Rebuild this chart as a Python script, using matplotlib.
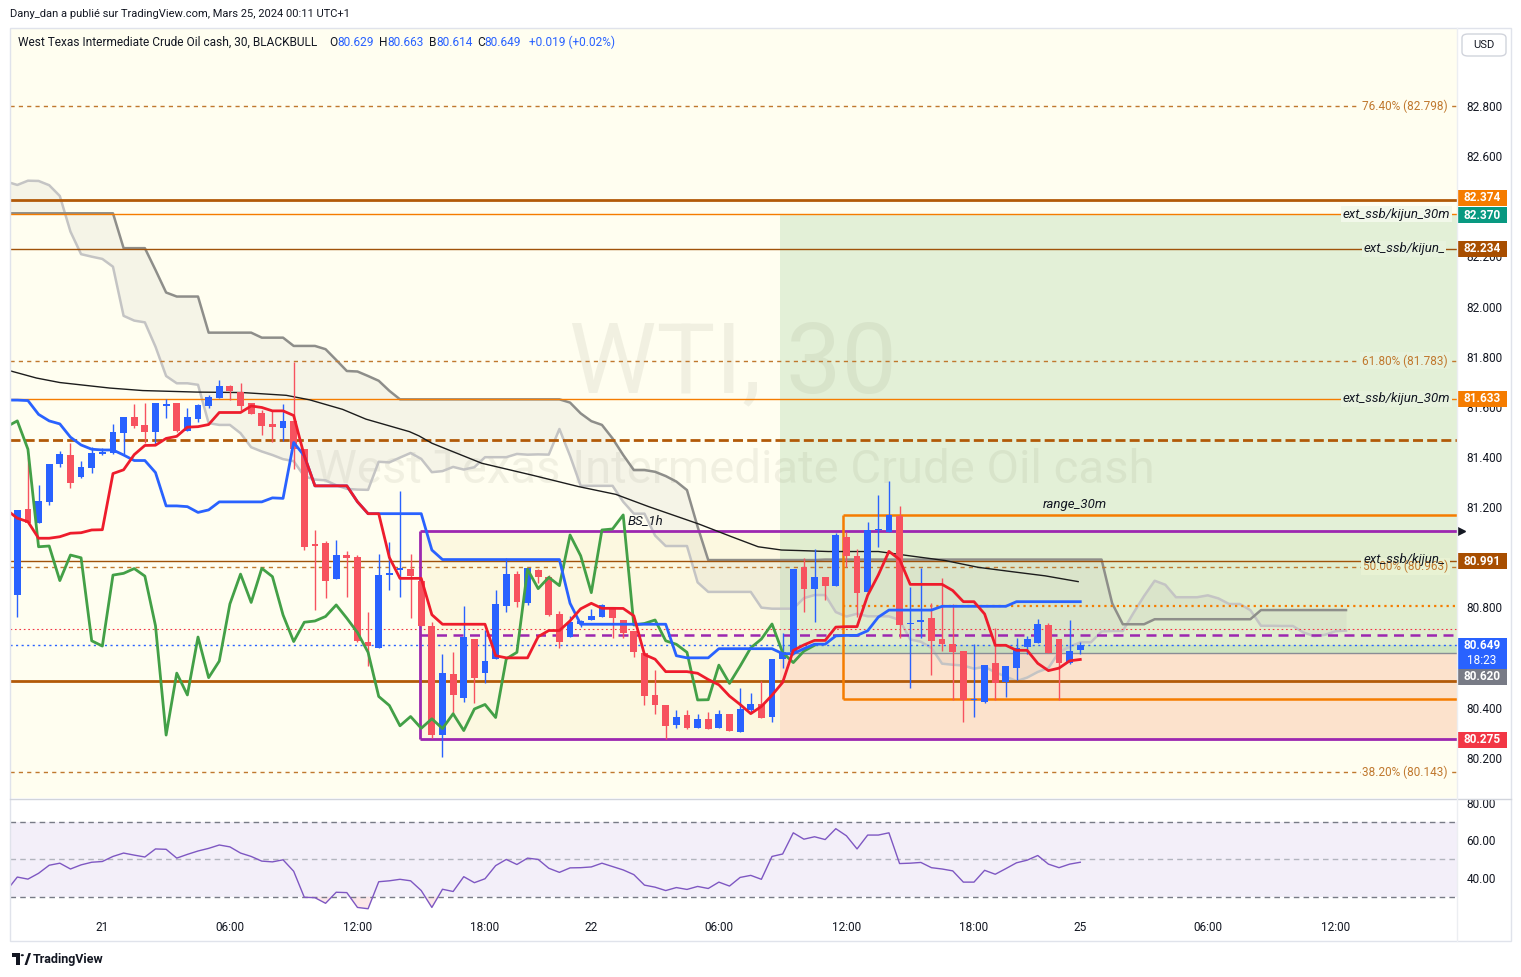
import numpy as np
import matplotlib
matplotlib.use('Agg')
import matplotlib.pyplot as plt
from matplotlib.patches import Rectangle, FancyBboxPatch, Polygon, Circle

plt.rcParams['font.family'] = ['Roboto', 'DejaVu Sans']

# ---------------- data (30-minute candles, index 0..100) ----------------
opens = [80.850, 81.193, 81.138, 81.222, 81.371, 81.408, 81.322, 81.358, 81.412, 81.415,
         81.497, 81.560, 81.526, 81.501, 81.602, 81.616, 81.505, 81.552, 81.605, 81.637,
         81.683, 81.658, 81.616, 81.577, 81.532, 81.517, 81.544, 81.431, 81.053, 81.056,
         80.915, 81.008, 81.000, 80.661, 80.639, 80.928, 80.951, 80.955, 80.905, 80.726,
         80.291, 80.534, 80.440, 80.674, 80.540, 80.593, 80.807, 80.932, 80.819, 80.949,
         80.922, 80.773, 80.684, 80.734, 80.750, 80.761, 80.800, 80.750, 80.708, 80.618,
         80.451, 80.411, 80.332, 80.372, 80.321, 80.356, 80.321, 80.376, 80.305, 80.392,
         80.415, 80.362, 80.594, 80.624, 80.960, 80.875, 80.920, 80.887, 81.079, 81.005,
         80.863, 81.109, 81.102, 81.166, 80.733, 80.740, 80.759, 80.674, 80.654, 80.626,
         80.430, 80.424, 80.580, 80.504, 80.560, 80.643, 80.659, 80.730, 80.674, 80.580,
         80.629]
highs = [81.189, 81.401, 81.289, 81.372, 81.425, 81.457, 81.384, 81.439, 81.435, 81.532,
         81.560, 81.610, 81.614, 81.616, 81.630, 81.616, 81.594, 81.610, 81.647, 81.707,
         81.687, 81.694, 81.616, 81.588, 81.588, 81.610, 81.780, 81.431, 81.109, 81.065,
         81.069, 81.025, 81.009, 80.780, 81.013, 81.062, 81.264, 81.013, 80.905, 80.743,
         80.614, 80.621, 80.806, 80.674, 80.710, 80.869, 80.996, 80.945, 80.956, 80.955,
         80.929, 80.786, 80.764, 80.750, 80.794, 80.813, 80.800, 80.750, 80.708, 80.618,
         80.551, 80.411, 80.392, 80.392, 80.376, 80.382, 80.392, 80.376, 80.478, 80.458,
         80.505, 80.595, 80.697, 80.952, 80.996, 81.032, 80.920, 81.098, 81.102, 81.032,
         81.139, 81.248, 81.304, 81.206, 80.883, 80.956, 80.816, 80.916, 80.812, 80.626,
         80.653, 80.570, 80.717, 80.566, 80.677, 80.687, 80.754, 80.736, 80.674, 80.750,
         80.663]
lows = [80.763, 81.136, 81.138, 81.209, 81.359, 81.278, 81.318, 81.335, 81.408, 81.412,
        81.412, 81.517, 81.457, 81.448, 81.557, 81.500, 81.505, 81.541, 81.597, 81.637,
        81.627, 81.588, 81.573, 81.488, 81.461, 81.465, 81.351, 81.029, 80.790, 80.839,
        80.915, 80.843, 80.663, 80.568, 80.637, 80.869, 80.843, 80.759, 80.727, 80.278,
        80.202, 80.371, 80.424, 80.420, 80.497, 80.593, 80.783, 80.803, 80.810, 80.896,
        80.767, 80.637, 80.681, 80.721, 80.748, 80.761, 80.677, 80.677, 80.604, 80.411,
        80.374, 80.275, 80.321, 80.314, 80.321, 80.317, 80.321, 80.309, 80.305, 80.378,
        80.361, 80.345, 80.558, 80.611, 80.783, 80.743, 80.830, 80.887, 80.962, 80.760,
        80.863, 81.040, 81.102, 80.679, 80.480, 80.679, 80.530, 80.628, 80.431, 80.342,
        80.362, 80.420, 80.431, 80.444, 80.511, 80.613, 80.659, 80.620, 80.431, 80.573,
        80.614]
closes = [81.189, 81.136, 81.225, 81.372, 81.412, 81.295, 81.360, 81.415, 81.420, 81.500,
          81.560, 81.525, 81.501, 81.616, 81.612, 81.504, 81.560, 81.608, 81.639, 81.682,
          81.665, 81.605, 81.573, 81.525, 81.521, 81.544, 81.431, 81.042, 81.045, 80.907,
          81.009, 80.998, 80.667, 80.646, 80.929, 80.936, 80.955, 80.925, 80.727, 80.291,
          80.538, 80.451, 80.682, 80.520, 80.586, 80.814, 80.933, 80.820, 80.956, 80.923,
          80.770, 80.664, 80.741, 80.746, 80.764, 80.810, 80.757, 80.700, 80.621, 80.445,
          80.409, 80.328, 80.365, 80.318, 80.356, 80.317, 80.376, 80.309, 80.395, 80.413,
          80.361, 80.595, 80.621, 80.952, 80.875, 80.920, 80.887, 81.089, 81.006, 80.859,
          81.109, 81.113, 81.169, 80.730, 80.736, 80.750, 80.667, 80.653, 80.621, 80.431,
          80.432, 80.570, 80.497, 80.566, 80.639, 80.674, 80.734, 80.620, 80.580, 80.626,
          80.649]

tenkan_head = [81.189, 81.156, 81.142, 81.076, 81.076, 81.082, 81.096, 81.098, 81.109]  # -1..7
kijun_head = [81.627, 81.627, 81.625, 81.570, 81.544, 81.532, 81.479, 81.448, 81.431, 81.428,
              81.428, 81.408, 81.386, 81.386, 81.338, 81.205, 81.205, 81.202, 81.179, 81.189,
              81.221, 81.221, 81.221, 81.221, 81.221, 81.237]  # -1..24
spanA_head = [82.498, 82.485, 82.502, 82.501, 82.484, 82.441, 82.299, 82.209, 82.199, 82.190,
              82.159, 81.963, 81.944, 81.937, 81.840, 81.723, 81.694, 81.694, 81.688, 81.535,
              81.528, 81.528, 81.495, 81.439, 81.422, 81.408]  # -1..24
spanB_head = ([82.372] * 11 + [82.233] * 3 + [82.146, 82.056] + [82.040] * 3 + [81.896] * 5 +
              [81.876] * 3 + [81.843] * 3 + [81.830, 81.787, 81.743, 81.741, 81.723, 81.704, 81.664] +
              [81.630] * 16 +
              [81.617, 81.574, 81.543, 81.528, 81.474, 81.408, 81.348, 81.348, 81.341, 81.324,
               81.302, 81.268, 81.122] + [80.989] * 11)  # -1..75

# long moving average (black line) read at positions
ma_pos = [-0.7, 1.8, 4.0, 8.7, 11.8, 16.8, 21.2, 25.3, 27.5, 30.6, 32.8, 36.9, 37.8, 39.0, 43.7,
          48.4, 52.8, 56.3, 59.4, 64.1, 67.2, 69.7, 71.9, 73.5, 76.3, 81.0, 84.1, 87.3, 90.4,
          93.5, 96.7, 99.8]
ma_val = [81.744, 81.715, 81.697, 81.675, 81.665, 81.659, 81.657, 81.646, 81.628, 81.590, 81.551,
          81.501, 81.484, 81.455, 81.375, 81.328, 81.282, 81.251, 81.202, 81.133, 81.082, 81.042,
          81.029, 81.027, 81.023, 81.023, 81.005, 80.987, 80.960, 80.943, 80.926, 80.903]

# RSI, index -1..100
rsi = [33.3,
       40.5, 39.4, 42.5, 46.8, 47.9, 44.8, 47.0, 48.4, 48.8, 51.5, 53.3, 52.2, 51.2, 55.5, 55.3,
       50.6, 52.6, 54.4, 55.8, 57.6, 56.6, 53.3, 51.5, 49.0, 48.6, 49.7, 43.6, 29.7, 29.5, 26.5,
       32.4, 32.2, 24.3, 23.6, 38.0, 38.5, 39.3, 38.5, 33.3, 24.3, 34.0, 32.8, 40.7, 37.5, 39.6,
       46.6, 49.9, 47.2, 50.6, 49.9, 45.2,
       43.0, 45.4, 45.5, 45.9, 47.9, 46.1, 44.3, 41.8, 36.2, 35.1, 33.3, 34.9, 33.9, 35.5, 34.4,
       37.8, 35.7, 40.3, 41.4, 39.3, 51.5, 52.8, 64.1, 60.7, 62.0, 60.5, 66.3, 62.5, 55.5, 62.9,
       62.9, 64.1, 47.7, 47.9, 48.3, 45.5, 44.8, 43.8, 37.8, 37.8, 44.1, 42.0, 45.0, 48.1, 49.5,
       52.0, 47.4, 45.5, 47.4, 48.4]

time_pos = [8, 20, 32, 44, 54, 66, 78, 90, 100, 112, 124]
time_labels = ['21', '06:00', '12:00', '18:00', '22', '06:00', '12:00', '18:00', '25', '06:00', '12:00']

price_ticks = [80.2, 80.4, 80.8, 81.2, 81.4, 81.6, 81.8, 82.0, 82.2, 82.6, 82.8]

# drawing levels
fib_levels = [82.798, 81.783, 80.963, 80.143]
fib_labels = ['76.40% (82.798)', '61.80% (81.783)', '50.00% (80.963)', '38.20% (80.143)']
bs_top, bs_bottom, bs_left = 81.105, 80.276, 37.9
rng_top, rng_bottom, rng_left = 81.169, 80.435, 77.7
pos_left, pos_entry, pos_target, pos_stop, last_price = 71.75, 80.620, 82.369, 80.275, 80.649

# ---------------- figure ----------------
W, H = 1521, 977
fig = plt.figure(figsize=(W / 100, H / 100), dpi=100)
fig.patch.set_facecolor('white')


def pax(l, t, r, b):
    return [l / W, 1 - b / H, (r - l) / W, (b - t) / H]


ax = fig.add_axes(pax(10, 28, 1457, 798))
ax2 = fig.add_axes(pax(10, 800, 1457, 913))
XL = (-0.687, 135.44)
ax.set_xlim(*XL)
ax.set_ylim(80.040, 83.111)
ax.set_facecolor('#fffef0')
for s in ax.spines.values():
    s.set_visible(False)

n = len(closes)
o = np.array(opens); h = np.array(highs); l = np.array(lows); c = np.array(closes)
idx = np.arange(n)

# Ichimoku computation (9 / 26 / 52, displacement 26)
tenkan = list(tenkan_head) + [(h[i - 8:i + 1].max() + l[i - 8:i + 1].min()) / 2 for i in range(8, n)]
kijun = list(kijun_head) + [(h[i - 25:i + 1].max() + l[i - 25:i + 1].min()) / 2 for i in range(25, n)]
tenkan = np.array(tenkan); kijun = np.array(kijun)   # indices -1..100
spanA = np.array(list(spanA_head) + [(tenkan[j + 1] + kijun[j + 1]) / 2 for j in range(0, n)])
spanB = np.array(list(spanB_head) + [(h[j - 51:j + 1].max() + l[j - 51:j + 1].min()) / 2 for j in range(51, n)])
cloud_x = np.arange(-1, n + 25)
line_x = np.arange(-1, n)

# backgrounds / zones
ax.add_patch(Rectangle((bs_left, bs_bottom), XL[1] - bs_left, bs_top - bs_bottom,
                       facecolor='#f3e3a0', alpha=0.2, edgecolor='none', zorder=0.5))
ax.add_patch(Rectangle((pos_left, pos_entry), XL[1] - pos_left, pos_target - pos_entry,
                       facecolor='#c8e4c0', alpha=0.5, edgecolor='none', zorder=0.6))
ax.add_patch(Rectangle((pos_left, pos_stop), XL[1] - pos_left, pos_entry - pos_stop,
                       facecolor='#fdc9b4', alpha=0.45, edgecolor='none', zorder=0.6))
ax.add_patch(Rectangle((pos_left, pos_entry), XL[1] - pos_left, last_price - pos_entry,
                       facecolor='#a8d8a8', alpha=0.35, edgecolor='none', zorder=0.6))

# watermark
ax.text(733 / W, 1 - 365 / H, 'WTI, 30', transform=fig.transFigure, fontsize=71,
        ha='center', va='center', color='#6b6b50', alpha=0.09, zorder=0.7)
ax.text(735 / W, 1 - 470 / H, 'West Texas Intermediate Crude Oil cash', transform=fig.transFigure,
        fontsize=34, ha='center', va='center', color='#6b6b50', alpha=0.09, zorder=0.7)

# cloud
ax.fill_between(cloud_x, spanA, spanB, color='#9e9e9e', alpha=0.1, lw=0, zorder=1)
ax.plot(cloud_x, spanA, color='#c4c4c4', lw=1.8, zorder=1.2)
ax.plot(cloud_x, spanB, color='#8e8e8a', lw=1.8, zorder=1.2)

# horizontal levels
yt = ax.get_yaxis_transform()
fibc = '#c0782e'
for v in fib_levels:
    ax.axhline(v, color=fibc, lw=1, ls=(0, (3, 3)), zorder=1.5)
ax.axhline(82.425, color='#b25a08', lw=2, zorder=1.5)
ax.axhline(82.369, color='#f57c00', lw=1, zorder=1.5)
ax.axhline(82.230, color='#a0520a', lw=1, zorder=1.5)
ax.axhline(81.632, color='#f57c00', lw=1, zorder=1.5)
ax.axhline(81.468, color='#b25a08', lw=2, ls=(0, (3.6, 1.5)), zorder=1.5)
ax.axhline(80.985, color='#a0520a', lw=1, zorder=1.5)
ax.axhline(80.507, color='#b25a08', lw=2, zorder=1.5)
ax.axhline(80.714, color='#f23645', lw=0.8, ls=(0, (1.5, 2.5)), zorder=1.5)
ax.axhline(last_price, color='#2962ff', lw=1, ls=(0, (1.5, 2.5)), zorder=1.5)
ax.hlines(pos_entry, pos_left, XL[1], color='#8a8d96', lw=1, zorder=1.5)
ax.hlines(80.806, rng_left, XL[1], color='#f57c00', lw=1.6, ls=(0, (1, 1.8)), zorder=1.5)
ax.hlines(80.690, bs_left, XL[1], color='#9c27b0', lw=1.8, ls=(0, (4, 2.6)), zorder=1.5)

# boxes
ax.hlines([bs_top, bs_bottom], bs_left, XL[1], color='#9c27b0', lw=2, zorder=1.6)
ax.vlines(bs_left, bs_bottom, bs_top, color='#9c27b0', lw=2, zorder=1.6)
ax.hlines([rng_top, rng_bottom], rng_left, XL[1], color='#f57c00', lw=1.8, zorder=1.6)
ax.vlines(rng_left, rng_bottom, rng_top, color='#f57c00', lw=1.8, zorder=1.6)

# moving average
ax.plot(ma_pos, ma_val, color='#1c1c1c', lw=1, zorder=2)

# candles
up = c >= o
cols = np.where(up, '#2962ff', '#f7525f')
ax.vlines(idx, l, h, colors=cols, lw=1, zorder=3)
body_lo = np.minimum(o, c)
body_h = np.maximum(np.abs(c - o), 0.005)
ax.bar(idx, body_h, bottom=body_lo, width=0.64, color=cols, edgecolor='none', zorder=3.1)

# ichimoku lines
ax.plot(idx - 25, c, color='#43a047', lw=2, zorder=4)
ax.plot(line_x, kijun, color='#2962ff', lw=2, zorder=4.1)
ax.plot(line_x, tenkan, color='#ee1c2c', lw=2, zorder=4.2)

# texts on the chart
lab_kw = dict(transform=yt, ha='right', va='center', zorder=6)
fib_bg = ['#fffef0', '#e7f2dd', '#e8f2d3', '#fffef0']
for v, t, bg in zip(fib_levels, fib_labels, fib_bg):
    ax.text(0.9937, v, t, color=fibc, fontsize=8.5,
            bbox=dict(boxstyle='square,pad=0.15', fc=bg, ec='none'), **lab_kw)
for v, t, xr, bg in [(82.369, 'ext_ssb/kijun_30m', 0.9953, '#f2f8ea'),
                     (82.230, 'ext_ssb/kijun_', 0.9918, '#e7f2dd'),
                     (81.632, 'ext_ssb/kijun_30m', 0.9953, '#e7f2dd'),
                     (80.990, 'ext_ssb/kijun_', 0.9918, None)]:
    kw = dict(lab_kw)
    if bg:
        kw['bbox'] = dict(boxstyle='square,pad=0.1', fc=bg, ec='none')
    ax.text(xr, v, t, color='#131722', style='italic', fontsize=9.5, **kw)
ax.text(57.4, 81.145, 'BS_1h', fontsize=9.5, style='italic', color='#131722', va='center', ha='left', zorder=6)
ax.text(96.5, 81.209, 'range_30m', fontsize=9.5, style='italic', color='#131722', va='center', ha='left', zorder=6)

# price axis
ax.yaxis.tick_right()
ax.set_yticks(price_ticks)
ax.set_yticklabels([f'{t:.3f}' for t in price_ticks])
ax.tick_params(axis='y', length=0, pad=7, labelsize=8.5, labelcolor='#131722')
ax.set_xticks([])

# RSI pane
ax2.set_xlim(*XL)
ax2.set_ylim(21.33, 81.6)
for s in ax2.spines.values():
    s.set_visible(False)
ax2.axhspan(30, 70, color='#7e57c2', alpha=0.09, lw=0)
ax2.axhline(70, color='#787b86', lw=1, ls=(0, (4, 3)))
ax2.axhline(30, color='#787b86', lw=1, ls=(0, (4, 3)))
ax2.axhline(50, color='#b2b5be', lw=1, ls=(0, (4, 3)))
r = np.array(rsi)
ax2.fill_between(line_x, r, 30, where=r < 30, interpolate=True, color='#f7a0a8', alpha=0.25, lw=0)
ax2.plot(line_x, r, color='#7e57c2', lw=1)
ax2.yaxis.tick_right()
ax2.set_yticks([40, 60, 80])
ax2.set_yticklabels(['40.00', '60.00', '80.00'])
ax2.tick_params(axis='y', length=0, pad=7, labelsize=8.5, labelcolor='#131722')
ax2.set_xticks(time_pos)
ax2.set_xticklabels(time_labels)
ax2.tick_params(axis='x', length=0, pad=6, labelsize=8.5, labelcolor='#131722')

# overlay axes for price-axis tags
axl = fig.add_axes(pax(1457, 28, 1515, 798))
axl.set_xlim(0, 58)
axl.set_ylim(80.040, 83.111)
axl.axis('off')
axl.patch.set_alpha(0)
tags = [(82.433, '82.374', '#f57c00'), (82.365, '82.370', '#089981'), (82.230, '82.234', '#a84e00'),
        (81.632, '81.633', '#f57c00'), (80.985, '80.991', '#a84e00'), (80.523, '80.620', '#787b86'),
        (80.272, '80.275', '#f23645')]
tag_h = 16 / 250.75
for v, t, col in tags:
    axl.add_patch(Rectangle((0, v - tag_h / 2), 50, tag_h, facecolor=col, edgecolor='none'))
    axl.text(25, v, t, color='white', fontsize=8.5, fontweight='bold', ha='center', va='center')
axl.add_patch(Rectangle((0, 80.555), 50, 0.123, facecolor='#2962ff', edgecolor='none'))
axl.text(25, 80.647, '80.649', color='white', fontsize=8.5, fontweight='bold', ha='center', va='center')
axl.text(25, 80.588, '18:23', color='white', fontsize=8.5, ha='center', va='center')
axl.plot([3.5], [bs_top], marker='>', color='#131722', ms=6)

# frame
fig.add_artist(Rectangle((10 / W, 1 - 941 / H), 1501 / W, 913 / H, transform=fig.transFigure,
                         fill=False, edgecolor='#e0e3eb', lw=1))
fig.add_artist(plt.Line2D([10 / W, 1511 / W], [1 - 799 / H] * 2, color='#d1d4dc', lw=1))
fig.add_artist(plt.Line2D([1457 / W] * 2, [1 - 28 / H, 1 - 941 / H], color='#eceef2', lw=1))

# header texts
def ftext(x, y, s, **kw):
    fig.text(x / W, 1 - y / H, s, va='center', **kw)

ftext(10, 14, 'Dany_dan a publié sur TradingView.com, Mars 25, 2024 00:11 UTC+1', fontsize=8, color='#131722')
ftext(18, 42, 'West Texas Intermediate Crude Oil cash, 30, BLACKBULL', fontsize=8.6, color='#131722')
blue = '#2962ff'
for xk, k, xv, v in [(329, 'O', 337, '80.629'), (379, 'H', 387, '80.663'),
                     (429, 'B', 436, '80.614'), (477, 'C', 484, '80.649')]:
    ftext(xk, 42, k, fontsize=8.6, color='#131722')
    ftext(xv, 42, v, fontsize=8.6, color=blue)
ftext(529, 42, '+0.019 (+0.02%)', fontsize=8.6, color=blue)

fig.add_artist(FancyBboxPatch((1462 / W, 1 - 56 / H), 44 / W, 22 / H, transform=fig.transFigure,
                              boxstyle='round,pad=0,rounding_size=0.004', fc='white', ec='#d1d4dc', lw=1))
ftext(1484, 45, 'USD', fontsize=8, color='#131722', ha='center')

# TradingView logo
fig.add_artist(Polygon([(12 / W, 1 - 953 / H), (20 / W, 1 - 953 / H), (20 / W, 1 - 965 / H),
                        (16 / W, 1 - 965 / H), (16 / W, 1 - 957 / H), (12 / W, 1 - 957 / H)],
                       closed=True, transform=fig.transFigure, fc='#131722', ec='none'))
fig.add_artist(Polygon([(24.5 / W, 1 - 965 / H), (28.5 / W, 1 - 953 / H), (31 / W, 1 - 953 / H),
                        (27 / W, 1 - 965 / H)], closed=True, transform=fig.transFigure, fc='#131722', ec='none'))
fig.add_artist(Circle((22.3 / W, 1 - 955.2 / H), 1.6 / W, transform=fig.transFigure, fc='#131722', ec='none'))
ftext(33, 959, 'TradingView', fontsize=9, color='#131722', fontweight='semibold')

fig.savefig('out.png', dpi=100, facecolor='white')
